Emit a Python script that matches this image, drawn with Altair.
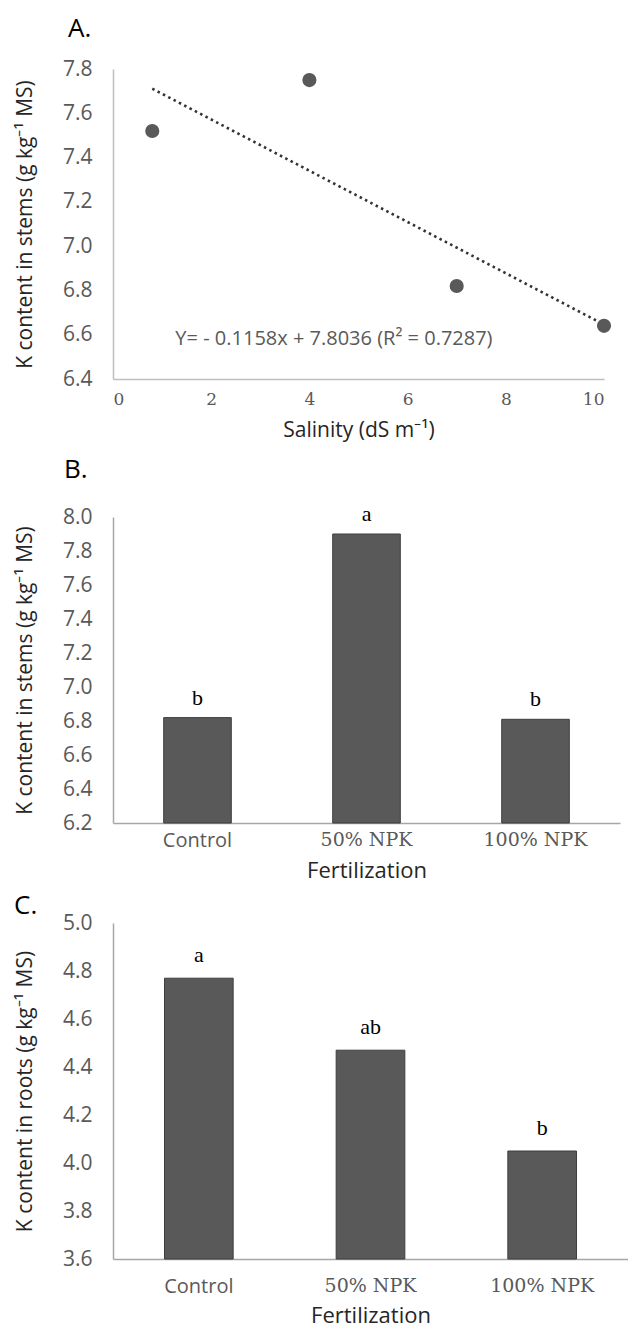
import altair as alt
import pandas as pd

# ---------------- data ----------------
salinity = [0.8, 4.0, 7.0, 10.0]
k_stems_salinity = [7.52, 7.75, 6.82, 6.64]
trend_x = [0.8, 10.0]
trend_y = [7.711, 6.646]
equation_text = ["Y= - 0.1158x + 7.8036 (R\u00b2 = 0.7287)"]
equation_x = [4.5]
equation_y = [6.58]

fertilization = ["Control", "50% NPK", "100% NPK"]
k_stems_fert = [6.82, 7.90, 6.81]
letters_stems = ["b", "a", "b"]
k_roots_fert = [4.77, 4.47, 4.05]
letters_roots = ["a", "ab", "b"]

ticks_a = [6.4, 6.6, 6.8, 7.0, 7.2, 7.4, 7.6, 7.8]
ticks_b = [6.2, 6.4, 6.6, 6.8, 7.0, 7.2, 7.4, 7.6, 7.8, 8.0]
ticks_c = [3.6, 3.8, 4.0, 4.2, 4.4, 4.6, 4.8, 5.0]
ticks_x_a = [0, 2, 4, 6, 8, 10]

SANS = "Open Sans"
SERIF = "DejaVu Serif"
LETTER_FONT = "Liberation Serif"
BAR = "#595959"
LABEL = "#595959"
TITLE = "#262626"
NOVIEW = alt.ViewConfig(stroke="transparent", strokeWidth=0)

def y_axis(title, values, dom="#BFBFBF"):
    return alt.Axis(title=title, values=values, format=".1f", labelFont=SANS,
                    labelFontSize=21, labelColor=LABEL, labelPadding=21,
                    titleFont=SANS, titleFontSize=21, titleColor=TITLE,
                    titleFontWeight="normal", titlePadding=27, ticks=False,
                    grid=False, domainColor=dom, domainWidth=1.5)

def panel_title(t, dx, offset=20):
    return alt.TitleParams(t, anchor="start", frame="group", dx=dx,
                           font=SANS, fontSize=26, fontWeight="normal",
                           color="#000000", offset=offset)

# ---------------- panel A ----------------
dfA = pd.DataFrame({"x": salinity, "y": k_stems_salinity})
dfT = pd.DataFrame({"x": trend_x, "y": trend_y})
dfE = pd.DataFrame({"x": equation_x, "y": equation_y, "t": equation_text})

xA = alt.X("x:Q", scale=alt.Scale(domain=[0, 10], nice=False),
           axis=alt.Axis(title="Salinity (dS m\u207b\u00b9)", values=ticks_x_a,
                         labelFont=SERIF, labelFontSize=17, labelColor=LABEL,
                         labelPadding=12, titleFont=SANS, titleFontSize=21,
                         titleColor=TITLE, titleFontWeight="normal",
                         titlePadding=12, ticks=False, grid=False,
                         domainColor="#BFBFBF", domainWidth=1.5))
yA = alt.Y("y:Q", scale=alt.Scale(domain=[6.4, 7.8], nice=False, zero=False),
           axis=y_axis("K content in stems (g kg\u207b\u00b9 MS)", ticks_a))

trend = alt.Chart(dfT).mark_line(color="#333333", strokeWidth=2.6,
                                 strokeDash=[2.5, 3.5]).encode(x=xA, y=yA)
points = alt.Chart(dfA).mark_circle(size=200, color=BAR, opacity=1).encode(x=xA, y=yA)
eq = alt.Chart(dfE).mark_text(font=SANS, fontSize=20, color=LABEL).encode(
    x=xA, y=yA, text="t:N")

chartA = alt.layer(trend, points, eq).properties(
    width=491, height=310, title=panel_title("A.", -45, offset=16), view=NOVIEW)

# ---------------- panel B / C helpers ----------------
def x_fert(label_pad, title_pad):
    return alt.X("f:N", sort=fertilization,
                 scale=alt.Scale(paddingInner=0.6, paddingOuter=0.3),
                 axis=alt.Axis(title="Fertilization", labelAngle=0,
                               labelFont={"expr": "datum.value == 'Control' ? 'Open Sans' : 'DejaVu Serif'"},
                               labelFontSize={"expr": "datum.value == 'Control' ? 20 : 19"},
                               labelColor=LABEL, labelPadding=label_pad,
                               titleFont=SANS, titleFontSize=22, titleColor=TITLE,
                               titleFontWeight="normal", titlePadding=title_pad,
                               ticks=False, grid=False, domainColor="#A6A6A6",
                               domainWidth=1.5))

# ---------------- panel B ----------------
dfB = pd.DataFrame({"f": fertilization, "v": k_stems_fert, "l": letters_stems})
yB = alt.Y("v:Q", scale=alt.Scale(domain=[6.2, 8.0], nice=False, zero=False),
           axis=y_axis("K content in stems (g kg\u207b\u00b9 MS)", ticks_b, "#A6A6A6"))
xB = x_fert(7, 10)
barsB = alt.Chart(dfB).mark_bar(color=BAR, stroke="#3f3f3f", strokeWidth=1).encode(
    x=xB, y=yB, y2=alt.datum(6.2))
textB = alt.Chart(dfB).mark_text(font=LETTER_FONT, fontSize=22, color="#000000",
                                 baseline="alphabetic", dy=-13).encode(
    x=xB, y=yB, text="l:N")
chartB = alt.layer(barsB, textB).properties(
    width=507, height=306, title=panel_title("B.", -49), view=NOVIEW)

# ---------------- panel C ----------------
dfC = pd.DataFrame({"f": fertilization, "v": k_roots_fert, "l": letters_roots})
yC = alt.Y("v:Q", scale=alt.Scale(domain=[3.6, 5.0], nice=False, zero=False),
           axis=y_axis("K content in roots (g kg\u207b\u00b9 MS)", ticks_c, "#A6A6A6"))
xC = x_fert(17, 9)
barsC = alt.Chart(dfC).mark_bar(color=BAR, stroke="#3f3f3f", strokeWidth=1).encode(
    x=xC, y=yC, y2=alt.datum(3.6))
textC = alt.Chart(dfC).mark_text(font=LETTER_FONT, fontSize=22, color="#000000",
                                 baseline="alphabetic", dy=-16).encode(
    x=xC, y=yC, text="l:N")
chartC = alt.layer(barsC, textC).properties(
    width=515, height=336, title=panel_title("C.", -99, offset=-7), view=NOVIEW)

top = alt.vconcat(chartA, chartB, spacing=16)
chart = alt.vconcat(top, chartC, spacing=12).properties(
    padding={"left": 14, "right": 0, "top": 16, "bottom": 6}
).configure_view(stroke="transparent", strokeWidth=0).configure(background="white")

chart.save("out.html", embed_options={"renderer": "svg", "actions": False})
